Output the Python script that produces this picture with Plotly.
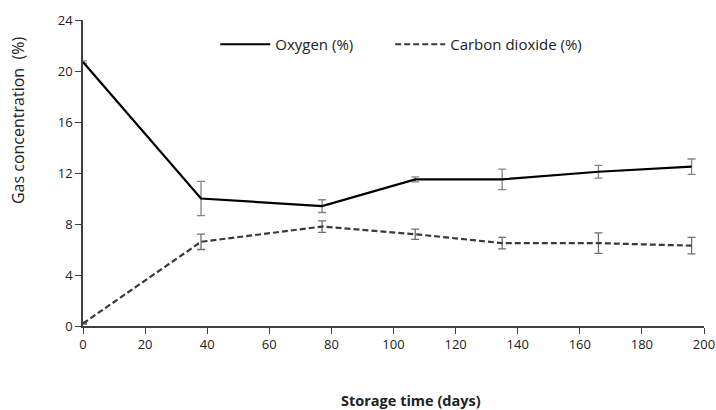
import plotly.graph_objects as go

days = [0, 38, 77, 107, 135, 166, 196]
oxygen = [20.7, 10.0, 9.4, 11.5, 11.5, 12.1, 12.5]
oxygen_err = [0.1, 1.35, 0.5, 0.2, 0.8, 0.5, 0.6]
co2 = [0.2, 6.6, 7.8, 7.2, 6.5, 6.5, 6.3]
co2_err = [0.05, 0.6, 0.45, 0.4, 0.45, 0.8, 0.65]
x_ticks = [0, 20, 40, 60, 80, 100, 120, 140, 160, 180, 200]
y_ticks = [0, 4, 8, 12, 16, 20, 24]

FONT = "'Open Sans', Lato, sans-serif"

fig = go.Figure()
fig.add_trace(go.Scatter(
    x=days, y=oxygen, mode="lines", name="Oxygen (%)", legend="legend",
    line=dict(color="#000000", width=2.2),
    error_y=dict(type="data", array=oxygen_err, color="#858585", thickness=1.3, width=4),
))
fig.add_trace(go.Scatter(
    x=days, y=co2, mode="lines", name="Carbon dioxide (%)", legend="legend2",
    line=dict(color="#3a3a3a", width=2.2, dash="6px,3px"),
    error_y=dict(type="data", array=co2_err, color="#6f6f6f", thickness=1.3, width=4),
))

leg_common = dict(orientation="h", y=0.92, xanchor="left", yanchor="middle",
                  bgcolor="rgba(0,0,0,0)", font=dict(size=15, color="#222222"),
                  itemwidth=50)

fig.update_layout(
    width=716, height=410,
    margin=dict(l=83, r=12, t=20, b=84),
    paper_bgcolor="white", plot_bgcolor="white",
    font=dict(family=FONT, size=13, color="#222222"),
    showlegend=True,
    legend=dict(x=0.213, **leg_common),
    legend2=dict(x=0.4947, **leg_common),
    xaxis=dict(range=[0, 200], tickvals=x_ticks, showgrid=False, zeroline=False,
               showline=True, linecolor="#404040", linewidth=1.5,
               ticks="outside", ticklen=6, tickcolor="#404040", automargin=False),
    yaxis=dict(range=[0, 24], tickvals=y_ticks, showgrid=False, zeroline=False,
               showline=True, linecolor="#404040", linewidth=1.5,
               ticks="outside", ticklen=6, tickcolor="#404040", automargin=False),
    annotations=[
        dict(text="<b>Storage time (days)</b>", xref="paper", yref="paper",
             x=0.528, y=-0.243, xanchor="center", yanchor="middle", showarrow=False,
             font=dict(size=14.5, color="#222222")),
        dict(text="Gas concentration  (%)", xref="paper", yref="paper",
             x=-0.1047, y=0.673, xanchor="center", yanchor="middle", showarrow=False,
             textangle=-90, font=dict(size=16, color="#222222")),
    ],
)

fig.write_html("out.html", config={"displayModeBar": False},
               post_script="document.body.style.margin='0';")
